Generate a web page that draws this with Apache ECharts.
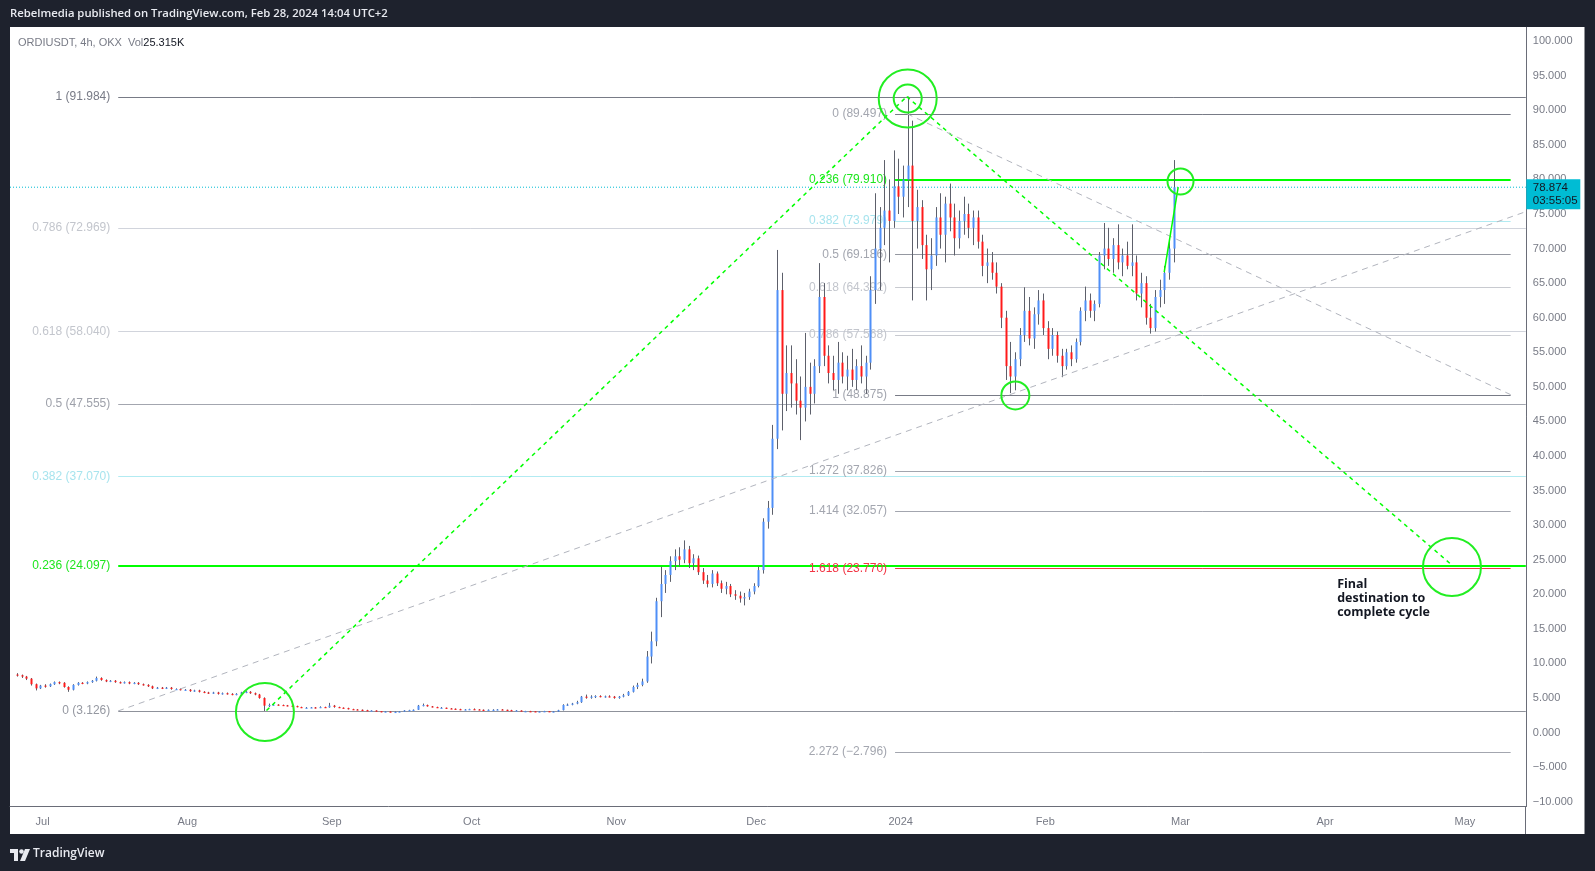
<!DOCTYPE html>
<html><head><meta charset="utf-8">
<script src="https://cdn.jsdelivr.net/npm/echarts@6/dist/echarts.min.js"></script>
<style>html,body{margin:0;padding:0;background:#1e222d;}#c{width:1595px;height:871px;}</style>
</head><body><div id="c"></div>
<script>
// ---------------- DATA (daily OHLC: [open, high, low, close]) ----------------
const firstCandleDay = [2023, 5, 25]; // 25 Jun 2023, consecutive days follow
const ohlcJun = [[8.4,8.6,8.1,8.3],[8.3,8.4,7.9,8.1],[8.1,8.2,7.6,7.8],[7.8,7.9,6.8,7.0],[7.0,7.1,6.1,6.4],[6.4,6.9,6.3,6.8]];
const ohlcJul = [[6.8,7.0,6.5,6.7],[6.7,7.1,6.6,7.0],[7.0,7.4,6.9,7.3],[7.3,7.4,7.0,7.2],[7.2,7.3,6.5,6.6],[6.6,6.7,5.9,6.2],[6.2,7.0,6.1,6.9],[6.9,7.3,6.8,7.2],[7.2,7.3,7.0,7.1],[7.1,7.4,7.0,7.3],[7.3,7.6,7.2,7.5],[7.5,8.1,7.4,7.9],[7.9,8.0,7.5,7.6],[7.6,7.7,7.3,7.4],[7.4,7.6,7.3,7.5],[7.5,7.6,7.2,7.3],[7.3,7.4,7.1,7.2],[7.2,7.4,7.1,7.3],[7.3,7.4,7.0,7.1],[7.1,7.3,7.0,7.2],[7.2,7.3,6.9,7.0],[7.0,7.1,6.8,6.9],[6.9,7.0,6.6,6.7],[6.7,6.8,6.3,6.4],[6.4,6.6,6.3,6.5],[6.5,6.6,6.3,6.4],[6.4,6.6,6.3,6.5],[6.5,6.6,6.2,6.3],[6.3,6.4,6.2,6.3],[6.3,6.4,6.1,6.2],[6.2,6.3,6.1,6.2]];
const ohlcAug = [[6.2,6.3,5.9,6.0],[6.0,6.2,5.9,6.1],[6.1,6.2,5.8,5.9],[5.9,6.0,5.7,5.8],[5.8,5.9,5.6,5.7],[5.7,5.9,5.6,5.8],[5.8,5.9,5.5,5.6],[5.6,5.8,5.5,5.7],[5.7,5.8,5.5,5.6],[5.6,5.7,5.4,5.5],[5.5,5.7,5.4,5.6],[5.6,5.9,5.5,5.8],[5.8,6.0,5.7,5.9],[5.9,6.0,5.6,5.7],[5.7,5.8,5.4,5.5],[5.5,5.6,4.9,5.0],[5.0,5.1,3.126,3.9],[3.9,4.2,3.7,4.0],[4.0,4.15,3.9,4.05],[4.05,4.1,3.9,4.0],[4.0,4.05,3.85,3.95],[3.95,4.0,3.8,3.9],[3.9,3.95,3.75,3.85],[3.85,3.9,3.65,3.7],[3.7,3.75,3.55,3.6],[3.6,3.7,3.55,3.6],[3.6,3.7,3.55,3.65],[3.65,3.7,3.5,3.6],[3.6,3.8,3.55,3.7],[3.7,3.75,3.6,3.65],[3.65,4.3,3.6,3.9]];
const ohlcSep = [[3.9,4.0,3.6,3.7],[3.7,3.75,3.55,3.6],[3.6,3.65,3.5,3.55],[3.55,3.6,3.35,3.4],[3.4,3.45,3.3,3.35],[3.35,3.4,3.25,3.3],[3.3,3.35,3.2,3.25],[3.25,3.3,3.15,3.2],[3.2,3.25,3.15,3.2],[3.2,3.22,3.05,3.1],[3.1,3.12,2.95,3.0],[3.0,3.1,2.97,3.05],[3.05,3.08,2.95,3.0],[3.0,3.05,2.95,3.0],[3.0,3.1,2.97,3.05],[3.05,3.25,3.0,3.2],[3.2,3.3,3.15,3.25],[3.25,3.35,3.2,3.3],[3.3,4.0,3.28,3.9],[3.9,4.2,3.8,4.0],[4.0,4.05,3.75,3.8],[3.8,3.85,3.65,3.7],[3.7,3.75,3.55,3.6],[3.6,3.7,3.55,3.6],[3.6,3.62,3.45,3.5],[3.5,3.55,3.4,3.45],[3.45,3.5,3.35,3.4],[3.4,3.45,3.25,3.3],[3.3,3.4,3.25,3.35],[3.35,3.45,3.3,3.4]];
const ohlcOct = [[3.4,3.5,3.3,3.35],[3.35,3.4,3.25,3.3],[3.3,3.35,3.2,3.25],[3.25,3.35,3.2,3.3],[3.3,3.38,3.22,3.3],[3.3,3.4,3.25,3.35],[3.35,3.4,3.25,3.3],[3.3,3.32,3.2,3.25],[3.25,3.3,3.15,3.2],[3.2,3.25,3.12,3.2],[3.2,3.22,3.08,3.1],[3.1,3.15,3.02,3.1],[3.1,3.15,3.03,3.08],[3.08,3.1,3.0,3.05],[3.05,3.1,2.98,3.05],[3.05,3.15,3.0,3.1],[3.1,3.12,2.98,3.02],[3.02,3.1,2.98,3.05],[3.05,3.3,3.0,3.25],[3.25,4.1,3.2,4.0],[4.0,4.2,3.85,4.05],[4.05,4.3,3.95,4.2],[4.2,4.6,4.1,4.4],[4.4,5.3,4.3,5.2],[5.2,5.5,4.9,5.1],[5.1,5.4,4.9,5.2],[5.2,5.4,5.0,5.3],[5.3,5.4,5.1,5.2],[5.2,5.35,5.05,5.25],[5.25,5.4,5.1,5.2],[5.2,5.3,4.9,5.0]];
const ohlcNov = [[5.0,5.3,4.9,5.2],[5.2,5.6,5.1,5.4],[5.4,6.0,5.3,5.9],[5.9,6.8,5.8,6.6],[6.6,7.2,6.3,6.9],[6.9,7.8,6.7,7.4],[7.4,11.8,7.2,11.0],[11.0,14.6,10.0,13.2],[13.2,19.5,12.5,19.0],[19.0,24.0,16.7,21.5],[21.5,23.5,20.2,22.8],[22.8,25.5,21.8,24.8],[24.8,26.5,23.5,25.5],[25.5,26.8,24.0,25.0],[25.0,27.8,24.5,26.5],[26.5,27.0,23.8,24.5],[24.5,25.8,23.5,25.2],[25.2,25.6,22.8,23.2],[23.2,23.8,21.5,22.0],[22.0,22.8,21.0,21.5],[21.5,23.5,21.0,23.0],[23.0,23.3,21.2,21.6],[21.6,22.0,20.2,20.8],[20.8,21.8,20.0,21.2],[21.2,21.5,19.6,20.0],[20.0,20.6,19.2,19.8],[19.8,20.4,18.8,19.4],[19.4,20.2,18.4,19.6],[19.6,20.8,19.2,20.4],[20.4,21.6,20.0,21.2]];
const ohlcDec = [[21.2,24.0,21.0,23.5],[23.5,31.0,23.0,30.5],[30.5,33.5,29.5,32.5],[32.5,44.5,31.5,42.5],[42.5,69.8,41.0,64.0],[64.0,66.5,43.7,49.0],[49.0,56.0,46.5,52.0],[52.0,56.0,47.0,50.5],[50.5,54.0,46.0,48.0],[48.0,51.5,42.3,47.0],[47.0,57.8,45.0,50.0],[50.0,53.5,46.0,49.0],[49.0,54.0,47.6,53.0],[53.0,67.9,52.0,63.0],[63.0,65.0,53.0,54.5],[54.5,56.0,50.5,52.0],[52.0,54.5,49.5,51.0],[51.0,56.5,49.0,53.5],[53.5,55.0,50.5,51.5],[51.5,54.5,49.5,52.5],[52.5,55.5,50.0,51.0],[51.0,54.0,49.5,53.0],[53.0,56.0,50.5,51.5],[51.5,54.5,49.0,53.5],[53.5,66.0,52.5,64.0],[64.0,78.0,62.0,70.0],[70.0,76.0,64.0,73.0],[73.0,82.8,70.5,75.5],[75.5,80.0,68.0,74.0],[74.0,84.2,73.0,79.0],[79.0,83.0,75.0,77.5]];
const ohlcJan = [[77.5,82.0,74.5,80.0],[80.0,91.984,76.0,82.0],[82.0,88.5,62.5,74.0],[74.0,78.5,70.0,76.0],[76.0,77.0,68.5,70.5],[70.5,72.0,62.5,67.0],[67.0,71.5,64.0,69.0],[69.0,76.0,67.5,74.5],[74.5,78.0,70.0,72.0],[72.0,77.5,68.0,76.5],[76.5,79.4,72.5,74.5],[74.5,76.5,69.0,71.5],[71.5,75.5,70.0,74.0],[74.0,77.5,72.0,75.0],[75.0,76.5,71.5,73.0],[73.0,75.5,70.5,74.5],[74.5,75.5,70.0,71.0],[71.0,72.0,66.0,67.5],[67.5,70.0,65.0,68.0],[68.0,69.5,65.5,66.5],[66.5,68.0,63.5,64.5],[64.5,65.0,58.5,60.0],[60.0,61.0,51.0,53.0],[53.0,56.5,49.1,51.5],[51.5,55.0,49.5,54.0],[54.0,58.5,53.0,57.5],[57.5,64.4,56.5,61.0],[61.0,63.0,56.0,57.0],[57.0,61.5,55.5,60.5],[60.5,64.0,59.0,62.5],[62.5,63.5,57.5,58.5]];
const ohlcFeb = [[58.5,59.5,54.0,55.5],[55.5,58.5,54.5,57.5],[57.5,58.0,53.5,54.5],[54.5,55.5,51.4,53.0],[53.0,55.5,52.5,55.0],[55.0,56.0,53.0,54.0],[54.0,57.0,53.5,56.5],[56.5,61.5,56.0,61.0],[61.0,64.5,59.5,62.5],[62.5,63.5,60.0,61.0],[61.0,62.5,59.5,62.0],[62.0,69.5,61.5,69.0],[69.0,73.7,67.0,70.0],[70.0,73.0,67.5,68.5],[68.5,71.5,66.5,70.5],[70.5,73.5,67.0,68.0],[68.0,70.0,66.0,69.0],[69.0,71.0,67.0,67.5],[67.5,73.5,66.0,68.0],[68.0,69.0,62.5,63.5],[63.5,66.5,61.5,65.0],[65.0,66.0,59.0,60.0],[60.0,62.0,57.7,58.5],[58.5,64.0,58.0,63.0],[63.0,65.5,61.5,64.0],[64.0,67.5,62.0,66.5],[66.5,71.5,65.5,70.0],[70.0,82.8,68.0,78.874]];

const lastPrice = 78.874;
const lastPriceTimer = '03:55:05';

// axes
const timeRange = ['2023-06-24T00:00:00Z', '2024-05-14T01:00:00Z'];
const priceRange = [-10.7, 102.0];
const priceTicks = [-10,-5,0,5,10,15,20,25,30,35,40,45,50,55,60,65,70,75,80,85,90,95,100];
const monthTicks = ['2023-07-01','2023-08-01','2023-09-01','2023-10-01','2023-11-01','2023-12-01','2024-01-01','2024-02-01','2024-03-01','2024-04-01','2024-05-01'];
const monthLabels = ['Jul','Aug','Sep','Oct','Nov','Dec','2024','Feb','Mar','Apr','May'];

// Fib retracement (left) and trend-based extension (right)
const leftFibRatios = ['1','0.786','0.618','0.5','0.382','0.236','0'];
const leftFibPrices = [91.984,72.969,58.040,47.555,37.070,24.097,3.126];
const leftFibTime = ['2023-07-17T05:00:00Z', '2024-05-14T01:00:00Z'];
const rightFibRatios = ['0','0.236','0.382','0.5','0.618','0.786','1','1.272','1.414','1.618','2.272'];
const rightFibPrices = [89.497,79.910,73.979,69.186,64.392,57.568,48.875,37.826,32.057,23.770,-2.796];
const rightFibTime = ['2023-12-30T19:00:00Z', '2024-05-10T19:00:00Z'];

// Drawn annotations (time, price)
const greenDashPath = [['2023-08-18T00:00:00Z',3.2],['2024-01-02T07:00:00Z',91.984],['2024-04-28T06:00:00Z',24.2]];
const grayDashA = [['2023-07-17T04:00:00Z',3.126],['2024-05-14T01:00:00Z',75.34]];
const grayDashB = [['2024-01-02T08:00:00Z',89.497],['2024-05-10T19:00:00Z',48.875]];
const greenSolid = [['2024-02-26T12:00:00Z',66.6],['2024-02-29T12:00:00Z',78.9]];
const circleCenters = [['2023-08-17T16:00:00Z',2.98],['2024-01-02T12:00:00Z',91.7],['2024-01-02T12:00:00Z',91.7],['2024-01-25T14:00:00Z',48.76],['2024-03-01T00:00:00Z',79.7],['2024-04-28T05:00:00Z',23.95]];
const circleRadii = [29,29,14,14,13,29];
const noteAnchor = ['2024-04-03T14:00:00Z', 22.5];
const noteLines = ['Final','destination to','complete cycle'];

// ---------------- BUILD ----------------
const T = s => Date.parse(s);
const allOhlc = [].concat(ohlcJun, ohlcJul, ohlcAug, ohlcSep, ohlcOct, ohlcNov, ohlcDec, ohlcJan, ohlcFeb);
const candleData = allOhlc.map((d, i) => [Date.UTC(firstCandleDay[0], firstCandleDay[1], firstCandleDay[2] + i, 12), d[0], d[1], d[2], d[3]]);
const monthTickMs = monthTicks.map(s => T(s + 'T00:00:00Z'));

const FONT = '"Liberation Sans", Arial, sans-serif';
const fmtPrice = v => (v < 0 ? '\u2212' : '') + Math.abs(v).toFixed(3);

const leftFibLine = ['#787b86','#d1d4dc','#d1d4dc','#a3a6af','#b2ebf2','#00ff00','#8f929b'];
const leftFibText = ['#787b86','#c3c6cd','#c3c6cd','#9ea1aa','#a8e4ee','#1ee61e','#9598a1'];
const rightFibLine = ['#787b86','#00ff00','#b2ebf2','#9598a1','#c8cad0','#c8cad0','#787b86','#a3a6af','#a3a6af','#f23645','#a3a6af'];
const rightFibText = ['#a3a6af','#1ee61e','#a8e4ee','#a3a6af','#c3c6cd','#c3c6cd','#a3a6af','#a3a6af','#a3a6af','#f23645','#a3a6af'];

const fibItems = [];
leftFibPrices.forEach((p, i) => fibItems.push({t0: T(leftFibTime[0]), t1: T(leftFibTime[1]), v: p, text: leftFibRatios[i] + ' (' + fmtPrice(p) + ')', line: leftFibLine[i], col: leftFibText[i], w: leftFibLine[i] === '#00ff00' ? 2 : 1}));
rightFibPrices.forEach((p, i) => fibItems.push({t0: T(rightFibTime[0]), t1: T(rightFibTime[1]), v: p, text: rightFibRatios[i] + ' (' + fmtPrice(p) + ')', line: rightFibLine[i], col: rightFibText[i], w: rightFibLine[i] === '#00ff00' ? 2 : 1}));

const segs = [];
for (let i = 0; i < greenDashPath.length - 1; i++) segs.push({a: greenDashPath[i], b: greenDashPath[i+1], color: '#00ff00', w: 1.5, dash: [4, 4]});
segs.push({a: grayDashA[0], b: grayDashA[1], color: '#b2b5be', w: 1, dash: [6, 5]});
segs.push({a: grayDashB[0], b: grayDashB[1], color: '#b2b5be', w: 1, dash: [6, 5]});
segs.push({a: greenSolid[0], b: greenSolid[1], color: '#00ff00', w: 1.5, dash: null});

const crisp = v => Math.round(v) + 0.5;

const chart = echarts.init(document.getElementById('c'), null, {renderer: 'canvas'});
chart.setOption({
  backgroundColor: '#1e222d',
  animation: false,
  grid: {left: 10, right: 69.2, top: 27.3, bottom: 64.4, containLabel: false},
  xAxis: {
    type: 'value', min: T(timeRange[0]), max: T(timeRange[1]),
    axisLine: {show: true, onZero: false, lineStyle: {color: '#6a6d78', width: 1}},
    axisTick: {show: false},
    splitLine: {show: false},
    axisLabel: {
      customValues: monthTickMs,
      formatter: v => { let k = -1; monthTickMs.forEach((m, j) => { if (Math.abs(m - v) < 3600000) k = j; }); return k >= 0 ? monthLabels[k] : ''; },
      color: '#787b86', fontSize: 11, fontFamily: FONT, margin: 10, hideOverlap: false
    }
  },
  yAxis: {
    type: 'value', position: 'right', min: priceRange[0], max: priceRange[1],
    axisLine: {show: true, onZero: false, lineStyle: {color: '#6a6d78', width: 1}},
    axisTick: {show: false},
    splitLine: {show: false},
    axisLabel: {customValues: priceTicks, formatter: v => fmtPrice(v), color: '#787b86', fontSize: 11, fontFamily: FONT, margin: 7}
  },
  graphic: [
    {type: 'rect', z: -10, silent: true, shape: {x: 10, y: 27, width: 1574.5, height: 807}, style: {fill: '#ffffff'}},
    {type: 'line', z: 10, silent: true, shape: {x1: 1525.5, y1: 806, x2: 1525.5, y2: 834}, style: {stroke: '#6a6d78', lineWidth: 1}},
    {type: 'text', left: 10, top: 8, style: {text: 'Rebelmedia published on TradingView.com, Feb 28, 2024 14:04 UTC+2', fill: '#e8eaf0', font: '600 11.3px "Open Sans", sans-serif'}},
    {type: 'text', left: 18, top: 37, z: 10, style: {text: '{a|ORDIUSDT, 4h, OKX  Vol}{b|25.315K}', rich: {a: {fill: '#787b86', font: '11px ' + FONT}, b: {fill: '#131722', font: '11px ' + FONT}}}},
    {type: 'group', left: 10, top: 849, children: [
      {type: 'rect', shape: {x: 0, y: 0, width: 8, height: 4}, style: {fill: '#e8eaf0'}},
      {type: 'rect', shape: {x: 4, y: 0, width: 4, height: 12}, style: {fill: '#e8eaf0'}},
      {type: 'circle', shape: {cx: 11.5, cy: 2.5, r: 2.3}, style: {fill: '#e8eaf0'}},
      {type: 'polygon', shape: {points: [[15, 0], [20, 0], [15, 12], [10, 12]]}, style: {fill: '#e8eaf0'}}
    ]},
    {type: 'text', left: 33, top: 848, style: {text: 'TradingView', fill: '#e8eaf0', font: '600 12px "Open Sans", sans-serif'}}
  ],
  series: [
    { // fib levels (under candles)
      type: 'custom', z: 1, clip: false,
      data: fibItems.map(f => [f.t0, f.t1, f.v]),
      encode: {x: [0, 1], y: 2},
      renderItem: (params, api) => {
        const f = fibItems[params.dataIndex];
        const p0 = api.coord([f.t0, f.v]), p1 = api.coord([f.t1, f.v]);
        const y = f.w === 2 ? Math.round(p0[1]) : crisp(p0[1]);
        return {type: 'group', children: [
          {type: 'line', shape: {x1: p0[0], y1: y, x2: p1[0], y2: y}, style: {stroke: f.line, lineWidth: f.w}},
          {type: 'text', style: {text: f.text, x: p0[0] - 8, y: p0[1], align: 'right', verticalAlign: 'middle', fill: f.col, font: '12px ' + FONT}}
        ]};
      }
    },
    { // last price dotted line
      type: 'line', z: 2, symbol: 'none', silent: true,
      data: [[T(timeRange[0]), lastPrice], [T(timeRange[1]), lastPrice]],
      lineStyle: {color: '#00bcd4', width: 1, type: [1, 2]}
    },
    { // candles
      type: 'custom', z: 3,
      data: candleData,
      encode: {x: 0, y: [1, 2, 3, 4]},
      renderItem: (params, api) => {
        const t = api.value(0), o = api.value(1), h = api.value(2), l = api.value(3), c = api.value(4);
        const pO = api.coord([t, o]), pC = api.coord([t, c]), pH = api.coord([t, h]), pL = api.coord([t, l]);
        const x = crisp(pO[0]);
        const top = Math.min(pO[1], pC[1]), bot = Math.max(pO[1], pC[1]);
        return {type: 'group', children: [
          {type: 'line', shape: {x1: x, y1: pH[1], x2: x, y2: pL[1]}, style: {stroke: '#5d606b', lineWidth: 1}},
          {type: 'rect', shape: {x: x - 1, y: top, width: 2, height: Math.max(bot - top, 1.2)}, style: {fill: c >= o ? '#4f8ff7' : '#ff1a1a'}}
        ]};
      }
    },
    { // dashed / solid trend lines
      type: 'custom', z: 4, clip: false,
      data: segs.map(s => [T(s.a[0]), s.a[1], T(s.b[0]), s.b[1]]),
      encode: {x: [0, 2], y: [1, 3]},
      renderItem: (params, api) => {
        const s = segs[params.dataIndex];
        const a = api.coord([T(s.a[0]), s.a[1]]), b = api.coord([T(s.b[0]), s.b[1]]);
        return {type: 'line', shape: {x1: a[0], y1: a[1], x2: b[0], y2: b[1]}, style: {stroke: s.color, lineWidth: s.w, lineDash: s.dash}};
      }
    },
    { // circles
      type: 'custom', z: 5, clip: false,
      data: circleCenters.map(c => [T(c[0]), c[1]]),
      encode: {x: 0, y: 1},
      renderItem: (params, api) => {
        const p = api.coord([api.value(0), api.value(1)]);
        return {type: 'circle', shape: {cx: p[0], cy: p[1], r: circleRadii[params.dataIndex]}, style: {fill: 'none', stroke: '#22ee22', lineWidth: 2}};
      }
    },
    { // note text
      type: 'custom', z: 5, clip: false,
      data: [[T(noteAnchor[0]), noteAnchor[1]]],
      encode: {x: 0, y: 1},
      renderItem: (params, api) => {
        const p = api.coord([api.value(0), api.value(1)]);
        return {type: 'text', style: {text: noteLines.join('\n'), x: p[0], y: p[1], align: 'left', verticalAlign: 'top', lineHeight: 14, fill: '#131722', font: '700 12.5px "Open Sans", sans-serif'}};
      }
    },
    { // last price badge on the price scale
      type: 'custom', z: 6, clip: false,
      data: [[T(timeRange[1]), lastPrice]],
      encode: {x: 0, y: 1},
      renderItem: (params, api) => {
        const p = api.coord([api.value(0), api.value(1)]);
        return {type: 'group', children: [
          {type: 'rect', shape: {x: p[0] + 0.5, y: p[1] - 8, width: 54, height: 30}, style: {fill: '#00bcd4'}},
          {type: 'text', style: {text: fmtPrice(lastPrice), x: p[0] + 7, y: p[1] + 1, verticalAlign: 'middle', fill: '#131722', font: '11.5px ' + FONT}},
          {type: 'text', style: {text: lastPriceTimer, x: p[0] + 7, y: p[1] + 14, verticalAlign: 'middle', fill: '#131722', font: '11.5px ' + FONT}}
        ]};
      }
    }
  ]
});
</script></body></html>
